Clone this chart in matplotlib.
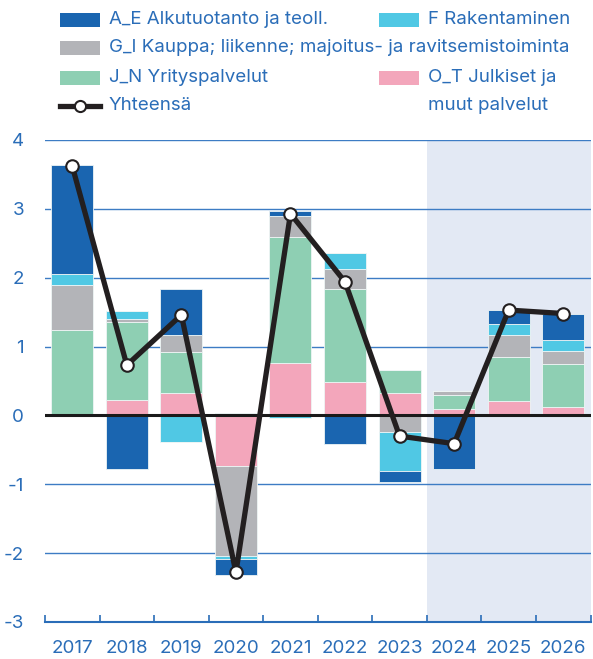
import matplotlib
matplotlib.use("Agg")
import matplotlib.pyplot as plt
import numpy as np
from matplotlib.patches import Rectangle
from matplotlib.lines import Line2D

plt.rcParams['font.family'] = ['Inter', 'DejaVu Sans']
plt.rcParams['axes.unicode_minus'] = False

# ---- data ----
years = ['2017', '2018', '2019', '2020', '2021', '2022', '2023', '2024', '2025', '2026']
A_E = [1.58, -0.78, 0.66, -0.23, 0.07, -0.41, -0.15, -0.78, 0.20, 0.38]
F_ = [0.16, 0.11, -0.38, -0.05, -0.04, 0.24, -0.57, 0.00, 0.16, 0.16]
G_I = [0.65, 0.04, 0.25, -1.30, 0.31, 0.29, -0.24, 0.06, 0.32, 0.20]
J_N = [1.24, 1.13, 0.60, 0.04, 1.83, 1.35, 0.34, 0.20, 0.64, 0.62]
O_T = [0.00, 0.23, 0.32, -0.74, 0.76, 0.48, 0.32, 0.10, 0.21, 0.12]
total = [3.62, 0.73, 1.46, -2.28, 2.93, 1.94, -0.30, -0.41, 1.53, 1.48]
yticks = [-3, -2, -1, 0, 1, 2, 3, 4]
forecast_start = 7  # 2024 onwards shaded

labels = ['A_E Alkutuotanto ja teoll.', 'F Rakentaminen',
          'G_I Kauppa; liikenne; majoitus- ja ravitsemistoiminta',
          'J_N Yrityspalvelut', 'O_T Julkiset ja\nmuut palvelut', 'Yhteensä']

C_BLUE = '#1a65b0'
C_CYAN = '#50c8e4'
C_GRAY = '#b3b4b8'
C_GREEN = '#8ecfb3'
C_PINK = '#f3a6bb'
C_TEXT = '#2a6db8'
C_GRID = '#3d7cc4'
C_SHADE = '#e3e9f4'

W, H = 593, 659
fig = plt.figure(figsize=(W / 100, H / 100), dpi=100)
L, R, T, B = 45, 590.5, 140, 622
ax = fig.add_axes([L / W, 1 - B / H, (R - L) / W, (B - T) / H])

x = np.arange(len(years))
series = [(O_T, C_PINK), (J_N, C_GREEN), (G_I, C_GRAY), (F_, C_CYAN), (A_E, C_BLUE)]
pos_base = np.zeros(len(years))
neg_base = np.zeros(len(years))
bw = 0.77
for vals, col in series:
    v = np.array(vals)
    pv = np.where(v > 0, v, 0)
    nv = np.where(v < 0, v, 0)
    ax.bar(x, pv, bw, bottom=pos_base, color=col, edgecolor='#eef5f5', linewidth=0.6, zorder=3)
    ax.bar(x, nv, bw, bottom=neg_base, color=col, edgecolor='#eef5f5', linewidth=0.6, zorder=3)
    pos_base += pv
    neg_base += nv

ax.axvspan(forecast_start - 0.5, len(years) - 0.5, color=C_SHADE, zorder=0, lw=0)
for yv in yticks:
    if yv not in (0, -3):
        ax.axhline(yv, color=C_GRID, lw=1.0, zorder=1)
ax.axhline(0, color='#1a1a1a', lw=2.2, zorder=4)

ax.plot(x, total, color='#231f20', lw=3.8, zorder=5,
        marker='o', markersize=9, markerfacecolor='white',
        markeredgecolor='#231f20', markeredgewidth=1.5)

ax.set_xlim(-0.5, len(years) - 0.5)
ax.set_ylim(-3, 4)
for s in ['top', 'left', 'right']:
    ax.spines[s].set_visible(False)
ax.spines['bottom'].set_color(C_TEXT)
ax.spines['bottom'].set_linewidth(1.5)

ax.set_xticks(np.arange(-0.5, len(years), 1.0))
ax.set_xticklabels([])
ax.tick_params(axis='x', which='major', direction='in', length=5, width=1.2, color=C_TEXT)
ax.set_xticks(x, minor=True)
ax.set_xticklabels(years, minor=True)
ax.tick_params(axis='x', which='minor', length=0, pad=13, labelsize=13.5, labelcolor=C_TEXT)

ax.set_yticks(yticks)
ax.set_yticklabels([str(v) for v in yticks])
ax.tick_params(axis='y', length=0, pad=15, labelsize=13.5, labelcolor=C_TEXT)

# ---- legend (manual, pixel coordinates) ----
def fx(px):
    return px / W

def fy(py):
    return 1 - py / H

fs = 13.5
items = [
    (60, 19.7, C_BLUE, labels[0]),
    (379, 19.7, C_CYAN, labels[1]),
    (60, 48, C_GRAY, labels[2]),
    (60, 77.5, C_GREEN, labels[3]),
    (379, 77.5, C_PINK, labels[4].split('\n')[0]),
]
for px, py, col, lab in items:
    fig.patches.append(Rectangle((fx(px), fy(py + 7)), 40 / W, 14 / H,
                                 transform=fig.transFigure, color=col, lw=0))
    fig.text(fx(px + 49), fy(py), lab, color=C_TEXT, fontsize=fs, va='center', ha='left')
fig.text(fx(428), fy(106), labels[4].split('\n')[1], color=C_TEXT, fontsize=fs, va='center', ha='left')
fig.lines.append(Line2D([fx(60), fx(100)], [fy(106), fy(106)], transform=fig.transFigure,
                        color='#231f20', lw=3.8))
fig.lines.append(Line2D([fx(80)], [fy(106)], transform=fig.transFigure,
                        marker='o', markersize=8, markerfacecolor='white',
                        markeredgecolor='#231f20', markeredgewidth=1.5, lw=0))
fig.text(fx(109), fy(106), labels[5], color=C_TEXT, fontsize=fs, va='center', ha='left')

fig.savefig('out.png', dpi=100)
